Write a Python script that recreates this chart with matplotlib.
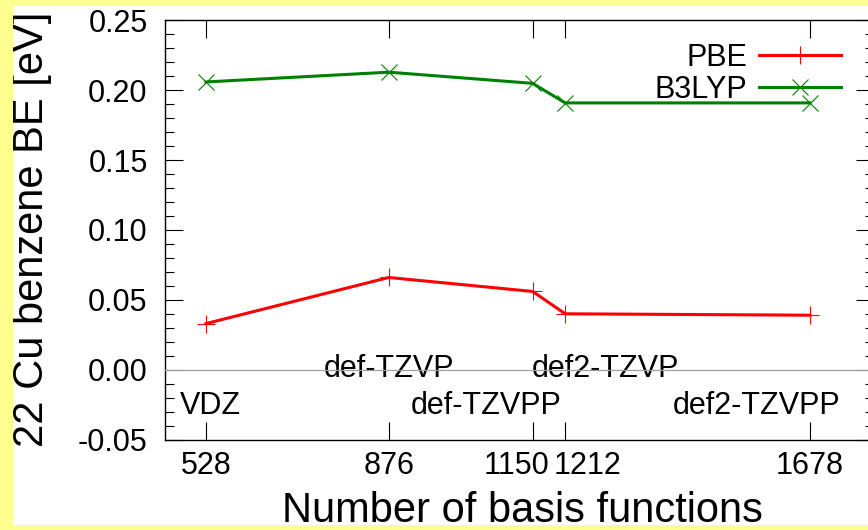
import matplotlib
matplotlib.use("Agg")
import matplotlib.pyplot as plt
from matplotlib.patches import Rectangle
from matplotlib.transforms import ScaledTranslation

plt.rcParams['font.family'] = ['Liberation Sans', 'DejaVu Sans']

# Number of basis functions for each basis set
n_basis = [528, 876, 1150, 1212, 1678]
basis_names = ["VDZ", "def-TZVP", "def-TZVPP", "def2-TZVP", "def2-TZVPP"]

# Binding energies [eV]
pbe = [0.033, 0.066, 0.056, 0.040, 0.039]
b3lyp = [0.206, 0.213, 0.205, 0.191, 0.191]

y_ticks = [-0.05, 0.00, 0.05, 0.10, 0.15, 0.20, 0.25]

W, H = 868, 530
fig = plt.figure(figsize=(W / 100, H / 100), dpi=100, facecolor='white')
ax = fig.add_axes([165 / W, (H - 439.5) / H, (874 - 165) / W, 419 / H])

ax.axhline(0.0, color='#a0a0a0', lw=0.9, zorder=3)

ax.plot(n_basis, pbe, color='#ff0000', lw=2.2, marker='+', markersize=13,
        markeredgewidth=0.8, label='PBE', zorder=4)
ax.plot(n_basis, b3lyp, color='#008000', lw=2.2, marker='x', markersize=11,
        markeredgewidth=0.8, label='B3LYP', zorder=4)

# Basis set names
label_pos = [(478, -0.032, 'left'), (876, -0.005, 'center'),
             (917, -0.032, 'left'), (1148, -0.005, 'left'),
             (1416, -0.032, 'left')]
for name, (lx, ly, ha) in zip(basis_names, label_pos):
    ax.text(lx, ly, name, fontsize=22, ha=ha, va='baseline', zorder=2)

ax.set_xlim(450, 1800)
ax.set_ylim(-0.05, 0.25)
ax.set_xticks(n_basis)
ax.set_xticklabels([str(v) for v in n_basis])
ax.set_yticks(y_ticks)
ax.set_yticklabels([f"{v:.2f}" for v in y_ticks])
ax.set_yticks([v / 100 for v in range(-5, 26)], minor=True)

ax.tick_params(axis='both', which='both', direction='in', top=True, right=True,
               labelsize=22, color='black', width=0.8)
ax.tick_params(axis='both', which='major', length=13)
ax.tick_params(axis='y', which='minor', length=6.5)
ax.tick_params(axis='x', which='major', pad=8)
ax.tick_params(axis='y', which='major', pad=12.5)
for sp in ax.spines.values():
    sp.set_linewidth(1.0)
    sp.set_color('black')

# Spread apart the two close tick labels (1150 and 1212)
shifts = {1150: -16, 1212: 22}
for tick, lab in zip(ax.get_xticks(), ax.get_xticklabels()):
    dx = shifts.get(int(round(tick)), 0)
    if dx:
        lab.set_transform(lab.get_transform() + ScaledTranslation(dx / 100, 0, fig.dpi_scale_trans))

ax.set_xlabel("Number of basis functions", fontsize=30)
ax.xaxis.label.set_va('baseline')
ax.xaxis.set_label_coords(0.5035, -0.197)
ax.set_ylabel("22 Cu benzene BE [eV]", fontsize=30)
ax.yaxis.label.set_va('baseline')
ax.yaxis.set_label_coords(-0.172, 0.5024)

leg = ax.legend(loc='upper right', bbox_to_anchor=(0.9535, 0.9463),
                markerfirst=False, frameon=False, fontsize=22,
                handlelength=2.7, handletextpad=0.36, labelspacing=0.065,
                borderpad=0, borderaxespad=0)
for col in leg._legend_handle_box.get_children():
    col.align = 'right'

# Pale yellow frame around the page
yellow = '#ffff90'
for (x0, y0, w, h) in [(0, 0, 13, H), (0, H - 6, W, 6), (0, 0, W, 5)]:
    fig.add_artist(Rectangle((x0 / W, y0 / H), w / W, h / H, transform=fig.transFigure,
                             facecolor=yellow, edgecolor='none', zorder=10))

fig.savefig("out.png", dpi=100, facecolor='white')
